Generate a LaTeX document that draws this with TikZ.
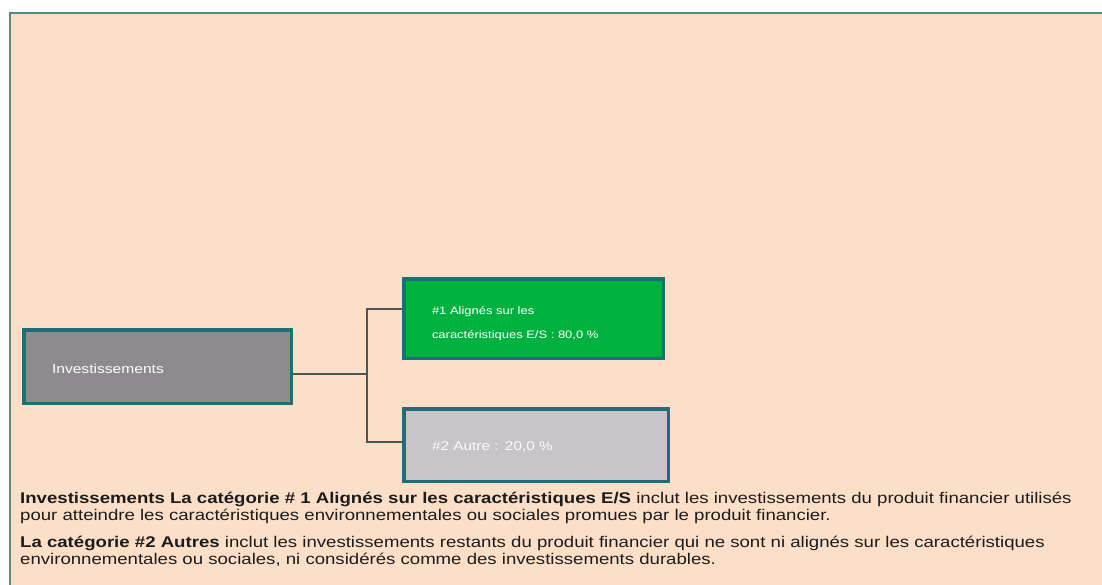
\documentclass[tikz,border=0pt]{standalone}
\usepackage{fontspec}
\setmainfont{Liberation Sans}[FakeStretch=1.2]
\usepackage{xcolor}
\usetikzlibrary{positioning}

\definecolor{peach}{HTML}{FDDFC8}
\definecolor{framegreen}{HTML}{5E8A7E}
\definecolor{tealedge}{HTML}{1E6E77}
\definecolor{invgrey}{HTML}{8D8B8D}
\definecolor{esgreen}{HTML}{00B140}
\definecolor{othergrey}{HTML}{C9C4C9}
\definecolor{linkgrey}{HTML}{4B5753}
\definecolor{bodytext}{HTML}{1C1C1C}

\tikzset{
  catbox/.style={draw=tealedge,line width=3.5pt,anchor=north west,
    inner xsep=28pt,inner ysep=0pt,align=left,text=white},
  link/.style={draw=linkgrey,line width=1.5pt},
  bodypar/.style={anchor=base west,inner sep=0pt,align=left,text=bodytext,
    font=\fontsize{15.5}{17}\selectfont}
}

\begin{document}
\begin{tikzpicture}[x=1pt,y=-1pt]
  \useasboundingbox (0,0) rectangle (1102,585);
  \clip (0,0) rectangle (1102,585);
  \fill[white] (0,0) rectangle (1102,585);
  \draw[framegreen,line width=2pt,fill=peach] (9.5,13) rectangle (1120,610);

  % tree connectors
  \coordinate (split) at (367,374);
  \coordinate (upper) at (367,309);
  \coordinate (lower) at (367,442);

  % boxes
  \node[catbox,fill=invgrey,minimum width=267.5pt,minimum height=73.5pt,
    text width=211pt,font=\fontsize{13}{15}\selectfont] (inv) at (22,328)
    {\rule{0pt}{14pt}Investissements};
  \node[catbox,fill=esgreen,minimum width=259.5pt,minimum height=79.5pt,
    text width=203pt,font=\fontsize{10.8}{24}\selectfont] (align) at (402,277)
    {\rule{0pt}{19pt}\#1 Alignés sur les\\caractéristiques E/S : 80,0 \%};
  \node[catbox,fill=othergrey,minimum width=264.5pt,minimum height=72.5pt,
    text width=208pt,text=white!92!othergrey,font=\fontsize{12.8}{15}\selectfont] (other) at (402,407)
    {\rule{0pt}{13pt}\#2 Autre : 20,0 \%};

  \draw[link] (inv.east |- split) -- (split);
  \draw[link] (align.west |- upper) -- (upper) -- (lower) -- (other.west |- lower);

  % explanation
  \node[bodypar] (par1) at (20,520.5)
    {\textbf{Investissements La catégorie \# 1 Alignés sur les caractéristiques E/S} inclut les investissements du produit financier utilisés\\
     pour atteindre les caractéristiques environnementales ou sociales promues par le produit financier.};
  \node[bodypar] (par2) at (20,564.5)
    {\textbf{La catégorie \#2 Autres} inclut les investissements restants du produit financier qui ne sont ni alignés sur les caractéristiques\\
     environnementales ou sociales, ni considérés comme des investissements durables.};
\end{tikzpicture}
\end{document}
